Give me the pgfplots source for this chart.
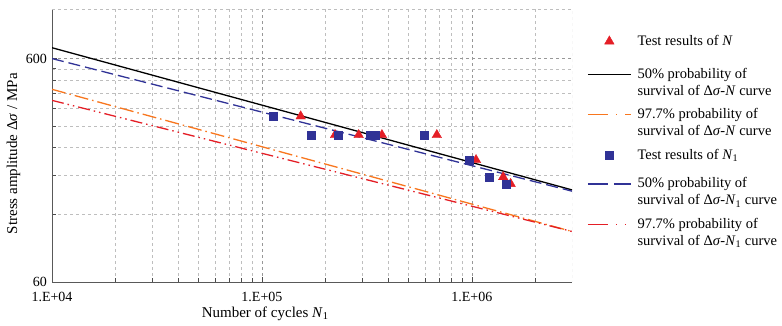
\documentclass[border=0pt]{standalone}
\usepackage{fontspec}
\setmainfont{Liberation Serif}
\usepackage{pgfplots}
\pgfplotsset{compat=1.18}
\definecolor{myblue}{RGB}{48,50,150}
\definecolor{myred}{RGB}{228,30,38}
\definecolor{myorange}{RGB}{248,118,30}
\definecolor{gridgray}{RGB}{190,190,190}
\begin{document}
\fontsize{14.5pt}{17pt}\selectfont
\begin{tikzpicture}
\useasboundingbox (-52pt,-43pt) rectangle (730pt,282pt);
\begin{axis}[
  scale only axis, width=520pt, height=273pt,
  xmode=log, ymode=log,
  xmin=1e4, xmax=3e6, ymin=60, ymax=1000,
  xtick={1e4,1e5,1e6}, xticklabels={1.E+04,1.E+05,1.E+06},
  minor xtick={2e4,3e4,4e4,5e4,6e4,7e4,8e4,9e4,2e5,3e5,4e5,5e5,6e5,7e5,8e5,9e5,2e6},
  ytick={60,600}, yticklabels={60,600},
  minor ytick={120,180,240,300,360,420,480,540},
  /pgf/number format/assume math mode=true,
  tick label style={font=\fontsize{14pt}{16pt}\selectfont},
  xticklabel style={yshift=-5pt},
  grid=both,
  major grid style={gridgray!80!black, dash pattern=on 3pt off 3pt, line width=0.6pt},
  minor grid style={gridgray, dash pattern=on 3pt off 3pt, line width=0.5pt},
  tick align=inside, major tick length=5pt, minor tick length=4pt,
  tick style={black!70, line width=0.6pt},
  axis x line*=bottom, axis y line*=left,
  axis line style={black!65, line width=0.7pt},
  xlabel={Number of cycles \textit{N}\textsubscript{1}},
  ylabel={Stress amplitude Δ\textit{σ} / MPa},
  label style={font=\fontsize{15pt}{17pt}\selectfont},
  xlabel style={at={(axis description cs:0.41,-0.115)}, anchor=center},
  ylabel style={at={(axis description cs:-0.074,0.47)}, anchor=center},
  legend style={draw=none, fill=none, at={(1,1)}, anchor=north west,
    xshift=12pt, yshift=-22pt, row sep=7pt,
    /tikz/every odd column/.append style={column sep=4pt},
    nodes={align=left, font=\fontsize{14.5pt}{17pt}\selectfont}},
  legend cell align=left,
]
% frame top/right dashed
\draw[gridgray, dash pattern=on 3pt off 3pt, line width=0.6pt] (rel axis cs:0,1) -- (rel axis cs:1,1) -- (rel axis cs:1,0);

\addplot[only marks, mark=triangle*, mark size=5.5pt, color=myred,
  legend image code/.code={\path (0pt,-17.5pt) (43pt,0pt);
    \fill[myred] (21.5pt,0pt) ++(90:5.5pt) -- ++(-120:9.53pt) -- ++(0:9.53pt) -- cycle;}] coordinates {
 (1.53e5,331) (2.23e5,273) (2.89e5,273) (3.73e5,273) (6.81e5,273)
 (1.047e6,211) (1.41e6,177) (1.53e6,165)};
\addlegendentry{Test results of \textit{N}}

\addplot[black, line width=1.3pt,
  legend image code/.code={\draw[black, line width=1.3pt] (0pt,8.5pt) -- (43pt,8.5pt);}]
  coordinates {(1e4,671) (3e6,155)};
\addlegendentry{50\% probability of\\survival of Δ\textit{σ}-\textit{N} curve}

\addplot[myorange, line width=1.3pt, dash pattern=on 14pt off 4pt on 1.5pt off 4pt,
  legend image code/.code={\draw[myorange, line width=1.3pt, dash pattern=on 20pt off 8pt on 1.5pt off 8pt] (0pt,8.5pt) -- (43pt,8.5pt);}]
  coordinates {(1e4,437) (3e6,101)};
\addlegendentry{97.7\% probability of\\survival of Δ\textit{σ}-\textit{N} curve}

\addplot[only marks, mark=square*, mark size=4pt, color=myblue,
  legend image code/.code={\path (0pt,-13.5pt) (43pt,0pt);
    \fill[myblue] (17.5pt,-4pt) rectangle (25.5pt,4pt);}] coordinates {
 (1.135e5,331) (1.72e5,273) (2.30e5,273) (3.28e5,273) (3.47e5,273) (5.94e5,273)
 (9.75e5,211) (1.21e6,177) (1.46e6,165)};
\addlegendentry{Test results of \textit{N}\textsubscript{1}}

\addplot[myblue, line width=1.3pt, dash pattern=on 12pt off 5pt,
  legend image code/.code={\draw[myblue, line width=1.3pt, dash pattern=on 20pt off 6pt] (0pt,8.5pt) -- (43pt,8.5pt);}]
  coordinates {(1e4,600) (3e6,153)};
\addlegendentry{50\% probability of\\survival of Δ\textit{σ}-\textit{N}\textsubscript{1} curve}

\addplot[myred, line width=1.3pt, dash pattern=on 12pt off 4pt on 1.5pt off 4pt on 1.5pt off 4pt,
  legend image code/.code={\draw[myred, line width=1.3pt, dash pattern=on 20pt off 8pt on 1.5pt off 7.5pt on 1.5pt off 8pt] (0pt,8.5pt) -- (43pt,8.5pt);}]
  coordinates {(1e4,390) (3e6,101)};
\addlegendentry{97.7\% probability of\\survival of Δ\textit{σ}-\textit{N}\textsubscript{1} curve}
\end{axis}
\end{tikzpicture}
\end{document}
